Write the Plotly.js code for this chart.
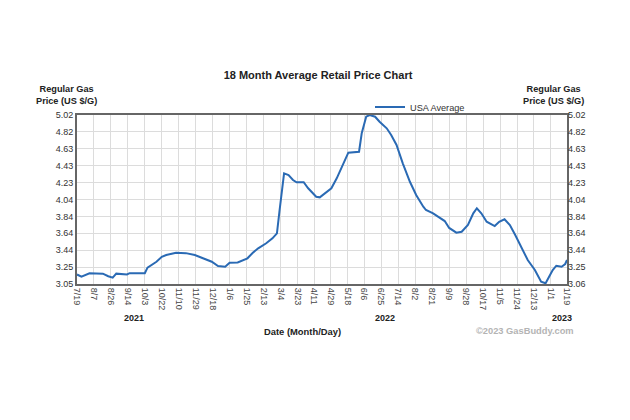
<!DOCTYPE html>
<html>
<head>
<meta charset="utf-8">
<script src="https://cdn.plot.ly/plotly-3.0.1.min.js"></script>
<style>html,body{margin:0;padding:0;background:#fff;}#chart{width:630px;height:420px;}</style>
</head>
<body>
<div id="chart"></div>
<script>
// Dates of the series (daily average retail price readings)
const dates = [
 "2021-07-19","2021-07-24","2021-08-02","2021-08-17","2021-08-23","2021-08-28","2021-09-01","2021-09-13","2021-09-16",
 "2021-10-03","2021-10-06","2021-10-16","2021-10-22","2021-10-27","2021-11-07","2021-11-18","2021-11-28",
 "2021-12-09","2021-12-17","2021-12-24","2022-01-01","2022-01-06","2022-01-15","2022-01-26","2022-02-01",
 "2022-02-07","2022-02-16","2022-02-23","2022-02-28","2022-03-03","2022-03-06","2022-03-08","2022-03-13",
 "2022-03-18","2022-03-22","2022-03-30","2022-04-04","2022-04-13","2022-04-17","2022-04-25","2022-04-30",
 "2022-05-06","2022-05-13","2022-05-19","2022-05-31","2022-06-03","2022-06-08","2022-06-12","2022-06-18",
 "2022-06-23","2022-07-01","2022-07-06","2022-07-12","2022-07-19","2022-07-27","2022-08-03","2022-08-11",
 "2022-08-14","2022-08-22","2022-08-30","2022-09-04","2022-09-09","2022-09-17","2022-09-23","2022-09-30",
 "2022-10-06","2022-10-10","2022-10-15","2022-10-21","2022-10-30","2022-11-04","2022-11-10","2022-11-16",
 "2022-11-22","2022-11-29","2022-12-06","2022-12-14","2022-12-21","2022-12-26","2022-12-29","2023-01-03",
 "2023-01-07","2023-01-13","2023-01-17","2023-01-19"
];
// USA average regular gas price ($/gal)
const usaAverage = [
 3.170,3.145,3.185,3.180,3.150,3.133,3.180,3.170,3.185,
 3.185,3.250,3.318,3.376,3.396,3.423,3.418,3.396,
 3.346,3.318,3.268,3.260,3.307,3.310,3.358,3.423,
 3.474,3.532,3.590,3.648,3.918,4.188,4.344,4.324,
 4.266,4.239,4.240,4.170,4.072,4.065,4.130,4.170,
 4.286,4.440,4.583,4.594,4.808,5.000,5.020,5.000,
 4.942,4.866,4.788,4.672,4.460,4.246,4.092,3.956,
 3.918,3.880,3.830,3.790,3.710,3.655,3.666,3.744,
 3.880,3.938,3.880,3.782,3.732,3.782,3.810,3.744,
 3.628,3.492,3.338,3.222,3.087,3.068,3.126,3.222,
 3.272,3.260,3.292,3.338
];
// X tick positions and labels (Month/Day)
const xTickVals = [
 "2021-07-19","2021-08-07","2021-08-26","2021-09-14","2021-10-03","2021-10-22","2021-11-10","2021-11-29",
 "2021-12-18","2022-01-06","2022-01-25","2022-02-13","2022-03-04","2022-03-23","2022-04-11","2022-04-29",
 "2022-05-18","2022-06-06","2022-06-25","2022-07-14","2022-08-02","2022-08-21","2022-09-09","2022-09-28",
 "2022-10-17","2022-11-05","2022-11-24","2022-12-13","2023-01-01","2023-01-19"
];
const xTickText = [
 "7/19","8/7","8/26","9/14","10/3","10/22","11/10","11/29","12/18","1/6","1/25","2/13","3/4","3/23",
 "4/11","4/29","5/18","6/6","6/25","7/14","8/2","8/21","9/9","9/28","10/17","11/5","11/24","12/13","1/1","1/19"
];
// Y ticks
const yTickVals = [3.06,3.256,3.452,3.648,3.844,4.04,4.236,4.432,4.628,4.824,5.02];
const yTickTextLeft = ["3.05","3.25","3.44","3.64","3.84","4.04","4.23","4.43","4.63","4.82","5.02"];
const yTickTextRight = ["3.06","3.25","3.44","3.64","3.84","4.04","4.23","4.43","4.63","4.82","5.02"];
// Year labels
const years = ["2021","2022","2023"];
const yearDates = ["2021-09-21","2022-06-29","2023-01-13"];

const FONT = "Liberation Sans, Arial, sans-serif";
const lineColor = "#2a6ab4";

const traces = [
 {x: dates, y: usaAverage, type: "scatter", mode: "lines", name: "USA Average",
  line: {color: lineColor, width: 2}, xaxis: "x", yaxis: "y"},
 {x: dates, y: usaAverage, type: "scatter", mode: "lines", showlegend: false,
  opacity: 0, hoverinfo: "skip", xaxis: "x", yaxis: "y2"}
];

const annotations = [
 {text: "<b>Regular Gas<br>Price (US $/G)</b>", xref: "paper", yref: "paper", x: (66-77)/490, y: (284-95)/169,
  xanchor: "center", yanchor: "middle", showarrow: false, font: {family: FONT, size: 9.2, color: "#222"}},
 {text: "<b>Regular Gas<br>Price (US $/G)</b>", xref: "paper", yref: "paper", x: (553-77)/490, y: (284-95)/169,
  xanchor: "center", yanchor: "middle", showarrow: false, font: {family: FONT, size: 9.2, color: "#222"}},
 {text: "<b>Date (Month/Day)</b>", xref: "paper", yref: "paper", x: (302-77)/490, y: (284-331)/169,
  xanchor: "center", yanchor: "middle", showarrow: false, font: {family: FONT, size: 9.4, color: "#222"}},
 {text: "<b>©2023 GasBuddy.com</b>", xref: "paper", yref: "paper", x: (576-77)/490, y: (284-331)/169,
  xanchor: "right", yanchor: "middle", showarrow: false, font: {family: FONT, size: 9.3, color: "#b4b4b4"}}
];
years.forEach((yr, i) => {
 annotations.push({text: "<b>" + yr + "</b>", xref: "x", yref: "paper", x: yearDates[i], y: (284-318)/169,
  xanchor: "center", yanchor: "middle", showarrow: false, font: {family: FONT, size: 9, color: "#222"}});
});

const layout = {
 width: 630, height: 420,
 margin: {l: 77, r: 63, t: 115, b: 136, pad: 0},
 paper_bgcolor: "#fff", plot_bgcolor: "#fff",
 font: {family: FONT, size: 9, color: "#333"},
 title: {text: "<b>18 Month Average Retail Price Chart</b>", x: (318)/630, xanchor: "center",
  y: 1 - 75/420, yanchor: "middle", font: {family: FONT, size: 11, color: "#222"}},
 showlegend: true,
 legend: {orientation: "h", x: (370-77)/490, y: (284-107)/169, xanchor: "left", yanchor: "middle",
  bgcolor: "rgba(0,0,0,0)", font: {family: FONT, size: 9.2, color: "#333"}, itemwidth: 30},
 xaxis: {type: "date", range: ["2021-07-19", "2023-01-19"], tickmode: "array", tickvals: xTickVals,
  ticktext: xTickText, tickangle: 90, showgrid: true, gridcolor: "#dcdcdc", gridwidth: 1,
  showline: true, linecolor: "#666", linewidth: 2, mirror: true, ticks: "", zeroline: false,
  tickfont: {family: FONT, size: 9, color: "#444"}, fixedrange: true},
 yaxis: {range: [3.06, 5.02], tickmode: "array", tickvals: yTickVals, ticktext: yTickTextLeft,
  showgrid: true, gridcolor: "#dcdcdc", gridwidth: 1, showline: true, linecolor: "#666", linewidth: 2,
  mirror: true, ticks: "", zeroline: false, tickfont: {family: FONT, size: 9, color: "#333"}},
 yaxis2: {range: [3.06, 5.02], overlaying: "y", side: "right", tickmode: "array", tickvals: yTickVals,
  ticktext: yTickTextRight, showgrid: false, showline: false, ticks: "", zeroline: false,
  tickfont: {family: FONT, size: 9, color: "#333"}},
 annotations: annotations
};

Plotly.newPlot("chart", traces, layout, {displayModeBar: false, staticPlot: true});
</script>
</body>
</html>
